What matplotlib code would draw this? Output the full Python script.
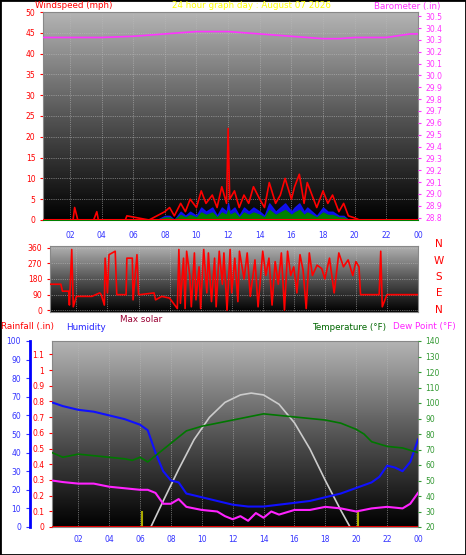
import matplotlib
matplotlib.use("Agg")
import matplotlib.pyplot as plt
import numpy as np

W, H = 466, 555
# ---------------- data ----------------
ws_t = [0.3,1.5,2.2,2.3,2.5,3.5,3.7,3.8,5.5,5.6,7.0,7.5,8.0,8.3,8.6,9.0,9.3,9.6,10.0,10.3,10.6,11.0,11.3,11.6,11.9,12.0,12.1,12.4,12.7,13.0,13.3,13.6,14.0,14.3,14.6,15.0,15.3,15.6,16.0,16.2,16.5,16.8,17.0,17.3,17.6,18.0,18.3,18.6,19.0,19.3,19.6,20.0,20.3,20.6,21.0,24.0]
ws_v = [0,0,0,3,0,0,2,0,0,1,0,1,2,3,1,4,2,5,3,7,4,6,3,8,4,22,5,7,3,6,4,8,5,3,9,4,6,10,5,8,11,4,9,6,3,7,4,6,2,4,1,0.5,0,0,0,0]
ws_g = [0,0,0,0,0,0,0,0,0,0,0,0,1,1,0,2,1,2,1,3,2,3,1,3,2,4,2,3,1,3,2,3,2,1,4,2,3,4,2,3,4,2,3,2,1,3,2,2,1,1,0,0,0,0,0,0]
baro_t = [0.3,2,4,6,7,8,9,10,11,12,13,14,15,16,17,18,19,20,21,22,23,23.5,24]
baro_v = [30.32,30.32,30.32,30.33,30.34,30.35,30.36,30.37,30.37,30.37,30.36,30.35,30.34,30.33,30.32,30.31,30.31,30.32,30.32,30.32,30.34,30.35,30.35]

wd_t = [0.3,1.0,1.1,1.5,1.55,1.7,1.8,2.0,3.0,3.5,3.6,3.8,3.85,4.0,4.1,4.5,4.6,5.2,5.25,5.6,5.65,5.9,6.0,6.1,7.0,7.1,7.5,8.0,8.5,8.6,8.7,8.9,9.0,9.1,9.3,9.4,9.6,9.7,9.9,10.0,10.2,10.4,10.5,10.7,10.9,11.0,11.2,11.4,11.5,11.7,11.9,12.0,12.2,12.4,12.5,12.8,13.0,13.2,13.5,13.7,14.0,14.2,14.4,14.6,14.8,15.0,15.2,15.4,15.6,15.8,16.0,16.2,16.4,16.6,16.8,17.0,17.2,17.5,17.8,18.0,18.3,18.6,18.9,19.2,19.5,19.8,20.0,20.2,20.3,20.5,21.5,21.6,21.7,22.0,24.0]
wd_v = [150,150,110,110,30,350,20,80,80,100,90,30,300,100,320,340,90,90,300,300,60,320,90,90,100,60,80,70,10,350,40,300,10,340,200,20,330,60,250,10,350,100,330,50,300,20,340,150,330,0,350,100,300,50,340,180,330,80,290,20,340,200,300,30,280,150,330,0,340,200,250,100,320,230,10,330,200,260,240,180,300,100,330,250,290,200,280,250,90,90,90,340,20,90,90]

hu_t = [0.3,1,2,3,4,5,6,6.5,7,7.5,8,8.5,9,10,11,12,13,14,15,16,17,18,19,20,21,21.5,22,22.5,23,23.5,24]
hu_v = [67,65,63,62,60,58,55,52,40,30,25,24,18,16,14,12,11,11,12,13,14,16,18,21,24,27,33,32,30,35,47]
te_t = [0.3,1,2,3,4,5,5.5,6,6.5,7,7.5,8,8.5,9,10,11,12,13,14,15,16,17,18,19,20,20.5,21,22,23,24]
te_v = [68,65,67,66,65,64,63,65,62,66,70,74,78,82,85,87,89,91,93,92,91,90,89,87,83,80,75,72,71,68]
dp_t = [0.3,1,2,3,4,5,6,6.5,7,7.5,8,8.5,9,9.5,10,11,11.5,12,12.5,13,13.5,14,14.5,15,16,17,18,19,20,21,22,23,23.5,24]
dp_v = [50,49,48,48,46,45,44,44,42,35,35,38,33,32,31,30,27,25,27,24,29,26,30,28,31,31,33,32,30,32,33,32,35,42]
sol_t = [6.7,7.5,8.5,9.5,10.5,11.5,12.5,13.2,14.0,15.0,16.0,17.0,18.0,19.0,19.6]
sol_v = [0,14,31,47,59,67,71,72,71,66,56,42,25,9,0]
sun_t = [6.1, 20.1]

hours = [2,4,6,8,10,12,14,16,18,20,22,24]
hour_lbl = ["02","04","06","08","10","12","14","16","18","20","22","00"]

fig = plt.figure(figsize=(W/100, H/100), dpi=100)
fig.patch.set_facecolor("white")
def ax_px(x0, y0, x1, y1):
    return fig.add_axes([x0/W, 1-y1/H, (x1-x0)/W, (y1-y0)/H])

grad = np.linspace(0, 1, 256).reshape(-1, 1)
from matplotlib.colors import LinearSegmentedColormap
cm = LinearSegmentedColormap.from_list("g", ["#000000", "#555555", "#b4b4b4"])
def bg(ax):
    ax.imshow(grad, aspect="auto", cmap=cm, extent=[0, 1, 0, 1], transform=ax.transAxes, zorder=0, origin="lower")
    ax.grid(True, color="#bbbbbb", ls=":", lw=0.5, zorder=1)
    for s in ax.spines.values():
        s.set_color("#888888")

fs = 5.5
tfs = 6.3
# ---- top panel ----
ax1 = ax_px(43, 12, 418, 220)
bg(ax1)
ax1.fill_between(ws_t, ws_g, color="#1010ff", zorder=3, alpha=0.9)
ax1.fill_between(ws_t, [g*0.6 for g in ws_g], color="green", zorder=3)
ax1.plot(ws_t, ws_v, color="red", lw=1.2, zorder=3)
ax1.axhline(0, color="red", lw=1.5, zorder=3)
ax1.set_xlim(0.3, 24); ax1.set_ylim(0, 50)
ax1.set_yticks(range(0, 51, 5))
ax1.tick_params(axis="y", colors="red", labelsize=fs, length=2)
ax1.set_xticks(hours); ax1.set_xticklabels(hour_lbl)
ax1.tick_params(axis="x", colors="#3333ff", labelsize=fs, length=0, pad=8)
ax1b = ax1.twinx()
ax1b.plot(baro_t, baro_v, color="#ff33ff", lw=1.2, zorder=3)
ax1b.set_ylim(28.78, 30.535)
ax1b.set_yticks(np.round(np.arange(28.8, 30.51, 0.1), 1))
ax1b.tick_params(axis="y", colors="#ff33ff", labelsize=fs, length=2)
for s in ax1b.spines.values(): s.set_visible(False)
fig.text(35/W, 1-6/H, "Windspeed (mph)", color="red", fontsize=tfs, va="center")
fig.text(172/W, 1-6/H, "24 hour graph day : August 07 2026", color="yellow", fontsize=tfs, va="center")
fig.text(440/W, 1-6/H, "Barometer (.in)", color="#ff33ff", fontsize=tfs, va="center", ha="right")

# ---- middle panel ----
ax2 = ax_px(50, 246, 418, 312)
bg(ax2)
ax2.plot(wd_t, wd_v, color="red", lw=1.2, zorder=3)
ax2.set_xlim(0.3, 24); ax2.set_ylim(-10, 370)
ax2.set_yticks([0, 90, 180, 270, 360])
ax2.tick_params(axis="y", colors="red", labelsize=fs, length=2)
ax2.set_xticks(hours); ax2.set_xticklabels([])
ax2.tick_params(axis="x", length=0)
for i, c in enumerate(["N", "W", "S", "E", "N"]):
    fig.text(439/W, 1-(244+i*16.5)/H, c, color="red", fontsize=7.5, ha="center", va="center")
fig.text(1/W, 1-327/H, "Rainfall (.in)", color="red", fontsize=tfs, va="center")
fig.text(66/W, 1-327/H, "Humidity", color="#2222ff", fontsize=tfs, va="center")
fig.text(120/W, 1-320/H, "Max solar", color="#990033", fontsize=tfs, va="center")
fig.text(312/W, 1-327/H, "Temperature (°F)", color="#006600", fontsize=tfs, va="center")
fig.text(393/W, 1-327/H, "Dew Point (°F)", color="#ff22ff", fontsize=tfs, va="center")

# ---- bottom panel ----
ax3 = ax_px(52, 341, 418, 527)
bg(ax3)
ax3.set_xlim(0.3, 24); ax3.set_ylim(0, 100)
ax3.plot(hu_t, hu_v, color="#1010ff", lw=1.5, zorder=4)
ax3.plot(sol_t, sol_v, color="#cccccc", lw=1.2, zorder=3)
ax3.vlines(sun_t, 0, 8.5, color="#aaaa00", lw=1.5, zorder=3)
ax3.axhline(0, color="red", lw=2, zorder=4)
ax3.set_yticks([])
ax3.set_xticks(hours); ax3.set_xticklabels(hour_lbl)
ax3.tick_params(axis="x", colors="#3333ff", labelsize=fs, length=0, pad=6)
# humidity axis
axh = ax_px(30, 341, 31, 527)
axh.set_ylim(0, 100); axh.set_yticks(range(0, 101, 10))
axh.set_xticks([])
for k in ["top", "bottom", "right"]: axh.spines[k].set_visible(False)
axh.spines["left"].set_color("blue"); axh.spines["left"].set_linewidth(2)
axh.tick_params(axis="y", colors="#3333ff", labelsize=fs, length=3)
axh.patch.set_visible(False)
# rain axis
axr = ax3.twinx()
axr.yaxis.tick_left(); axr.yaxis.set_label_position("left")
axr.set_ylim(0, 1.185)
axr.set_yticks(np.round(np.arange(0, 1.11, 0.1), 1))
axr.set_yticklabels(["0", "0.1", "0.2", "0.3", "0.4", "0.5", "0.6", "0.7", "0.8", "0.9", "1", "1.1"])
axr.tick_params(axis="y", colors="red", labelsize=fs, length=2)
for s in axr.spines.values(): s.set_visible(False)
# temp axis
axt = ax3.twinx()
axt.set_ylim(20, 140)
axt.plot(te_t, te_v, color="#007700", lw=1.2, zorder=3)
axt.plot(dp_t, dp_v, color="#ff22ff", lw=1.5, zorder=3)
axt.set_yticks(range(20, 141, 10))
axt.tick_params(axis="y", colors="#339933", labelsize=fs, length=2)
for s in axt.spines.values(): s.set_visible(False)

border = plt.Rectangle((0, 0), 1, 1, transform=fig.transFigure, fill=False, ec="black", lw=2)
fig.patches.append(border)
fig.savefig("out.png", dpi=100)
